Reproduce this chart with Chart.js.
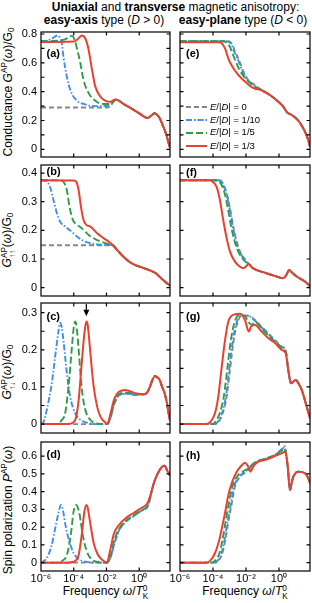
<!DOCTYPE html>
<html><head><meta charset="utf-8">
<script src="https://cdn.jsdelivr.net/npm/chart.js@4.4.1/dist/chart.umd.min.js"></script>
<style>
html,body{margin:0;padding:0;background:#fff;}
body{width:312px;height:603px;position:relative;overflow:hidden;font-family:'Liberation Sans',Arial,Helvetica,sans-serif;color:#000;}
canvas{position:absolute;}
.t{position:absolute;white-space:nowrap;transform:translate(-50%,-50%);font-size:12px;line-height:13px;}
.rot{position:absolute;white-space:nowrap;transform:translate(-50%,-50%) rotate(-90deg);font-size:12px;line-height:13px;}
.pl{position:absolute;font-weight:bold;font-size:11px;line-height:12px;transform:translateY(-50%);}
.ss{display:inline-block;vertical-align:-0.45em;line-height:0.95;font-size:0.68em;text-align:left;}
sup{font-size:0.68em;vertical-align:0.5em;line-height:0;}
sub{font-size:0.68em;vertical-align:-0.25em;line-height:0;}
.lg{position:absolute;left:186px;font-size:9.5px;line-height:11px;white-space:nowrap;}
.lg svg{vertical-align:middle;margin-right:3px;}
</style></head>
<body>
<div class="t" style="left:175.5px;top:6.5px;"><b>Uniaxial</b> and <b>transverse</b> magnetic anisotropy:</div>
<div class="t" style="left:104px;top:19.5px;"><b>easy-axis</b> type (<i>D</i> &gt; 0)</div>
<div class="t" style="left:243px;top:19.5px;"><b>easy-plane</b> type (<i>D</i> &lt; 0)</div>

<div class="rot" style="left:8px;top:92px;">Conductance <i>G</i><sup>AP</sup>(<i>ω</i>)/G<sub>0</sub></div>
<div class="rot" style="left:9px;top:240px;"><i>G</i><span class="ss">AP<br>↑↑</span>(<i>ω</i>)/G<sub>0</sub></div>
<div class="rot" style="left:9px;top:372px;"><i>G</i><span class="ss">AP<br>↑↓</span>(<i>ω</i>)/G<sub>0</sub></div>
<div class="rot" style="left:8px;top:510px;">Spin polarization <i>P</i><sup>AP</sup>(<i>ω</i>)</div>
<div class="t" style="left:105.5px;top:593px;">Frequency <i>ω</i>/<i>T</i><span class="ss">0<br>K</span></div>
<div class="t" style="left:245px;top:593px;">Frequency <i>ω</i>/<i>T</i><span class="ss">0<br>K</span></div>

<script>
// ---- x axis (log10 of ω/T_K^0) ----
const xTicks = [1e-6, 1e-4, 1e-2, 1];
const xTickLabels = ['10⁻⁶', '10⁻⁴', '10⁻²', '10⁰'];
const xMinLog = -6, xMaxLog = 1.88;

// series order: E/|D| = 1/3 (red), 1/5 (green), 1/10 (blue), 0 (gray)
const seriesLabels = ['E/|D| = 1/3', 'E/|D| = 1/5', 'E/|D| = 1/10', 'E/|D| = 0'];

// ---- y ticks ----
const aYTicks = [0,0.1,0.2,0.3,0.4,0.5,0.6,0.7,0.8];
const aYLabels = [0,0.2,0.4,0.6,0.8];
const bYTicks = [0,0.1,0.2,0.3,0.4];
const bYLabels = [0,0.1,0.2,0.3,0.4];
const cYTicks = [0,0.05,0.1,0.15,0.2,0.25,0.3];
const cYLabels = [0,0.1,0.2,0.3];
const dYTicks = [0,0.1,0.2,0.3,0.4,0.5,0.6];
const dYLabels = [0,0.1,0.2,0.3,0.4,0.5,0.6];

// ---- data: [log10(ω/T_K^0), value] ----
// (a) conductance, easy-axis
const aTail = [[-1.45,0.345],[-1.2,0.335],[-1.0,0.318],[-0.5,0.285],[0,0.25],[0.5,0.218],[0.75,0.236],[0.95,0.25],[1.1,0.238],[1.22,0.222],[1.43,0.169],[1.63,0.11],[1.83,0.03],[1.88,0.012]];
const aRed = [[-6,0.745],[-4.0,0.748],[-3.75,0.765],[-3.5,0.79],[-3.35,0.78],[-3.2,0.74],[-3.09,0.69],[-2.88,0.55],[-2.68,0.435],[-2.37,0.365],[-2.06,0.337],[-1.75,0.33],[-1.6,0.34]];
const aGreen = [[-6,0.75],[-4.9,0.755],[-4.5,0.765],[-4.25,0.785],[-4.11,0.787],[-3.95,0.76],[-3.76,0.68],[-3.6,0.60],[-3.4,0.48],[-3.09,0.39],[-2.68,0.337],[-2.27,0.315],[-1.75,0.315],[-1.6,0.33]];
const aBlue = [[-6,0.75],[-5.6,0.755],[-5.3,0.77],[-5.0,0.79],[-4.85,0.775],[-4.73,0.736],[-4.63,0.643],[-4.42,0.504],[-4.17,0.40],[-3.8,0.337],[-3.4,0.315],[-2.78,0.30],[-2.17,0.30],[-1.75,0.31],[-1.6,0.328]];
const aGray = [[-6,0.29],[-2.0,0.29],[-1.75,0.30],[-1.6,0.325]];

// (e) conductance, easy-plane
const eTail = [[-1.05,0.41],[-0.55,0.377],[-0.04,0.33],[0.26,0.296],[0.45,0.262],[0.56,0.25],[0.75,0.24],[0.87,0.231],[1.17,0.199],[1.47,0.146],[1.74,0.076],[1.88,0.018]];
const eRed = [[-6,0.743],[-3.6,0.743],[-3.47,0.735],[-3.27,0.70],[-3.07,0.63],[-2.83,0.574],[-2.47,0.516],[-2.06,0.47],[-1.76,0.44],[-1.45,0.42],[-1.2,0.415]];
const eGreen = [[-6,0.75],[-3.4,0.75],[-3.15,0.74],[-2.97,0.71],[-2.8,0.66],[-2.55,0.59],[-2.36,0.545],[-2.1,0.50],[-1.8,0.465],[-1.45,0.435]];
const eBlue = [[-6,0.75],[-3.25,0.75],[-3.02,0.745],[-2.85,0.72],[-2.72,0.68],[-2.55,0.64],[-2.41,0.60],[-2.21,0.54],[-1.9,0.48],[-1.5,0.443]];
const eGray = [[-6,0.75],[-3.2,0.75],[-2.97,0.745],[-2.8,0.72],[-2.67,0.68],[-2.5,0.64],[-2.36,0.60],[-2.16,0.54],[-1.86,0.48],[-1.45,0.446]];

// (b) G_up-up, easy-axis
const bTail = [[-1.65,0.15],[-1.34,0.131],[-0.93,0.106],[-0.52,0.087],[-0.11,0.076],[0.3,0.068],[0.71,0.059],[1.02,0.05],[1.28,0.036],[1.5,0.025],[1.7,0.015],[1.88,0.008]];
const bRed = [[-6,0.375],[-4.0,0.374],[-3.85,0.37],[-3.7,0.34],[-3.56,0.283],[-3.4,0.236],[-3.23,0.219],[-2.98,0.213],[-2.57,0.19],[-2.16,0.172],[-1.86,0.16]];
const bGreen = [[-6,0.375],[-4.75,0.374],[-4.63,0.37],[-4.42,0.34],[-4.26,0.283],[-4.05,0.236],[-3.85,0.222],[-3.5,0.207],[-3.09,0.184],[-2.57,0.166],[-2.16,0.157],[-1.85,0.152]];
const bBlue = [[-6,0.375],[-5.8,0.374],[-5.65,0.37],[-5.45,0.352],[-5.24,0.306],[-5.03,0.26],[-4.83,0.23],[-4.52,0.213],[-4.22,0.20],[-3.91,0.184],[-3.5,0.166],[-2.98,0.155],[-2.37,0.15],[-1.9,0.149]];
const bGray = [[-6,0.148],[-1.9,0.148]];

// (f) G_up-up, easy-plane
const fTail = [[-1.65,0.071],[-1.45,0.064],[-0.85,0.052],[-0.24,0.041],[0.26,0.033],[0.45,0.045],[0.62,0.062],[0.8,0.052],[1.05,0.04],[1.3,0.031],[1.58,0.021],[1.88,0.006]];
const fRed = [[-6,0.375],[-4.2,0.375],[-4.08,0.372],[-3.78,0.352],[-3.58,0.306],[-3.38,0.236],[-3.17,0.172],[-2.97,0.126],[-2.67,0.091],[-2.36,0.073],[-2.16,0.068],[-1.98,0.075],[-1.86,0.083],[-1.76,0.079]];
const fGreen = [[-6,0.375],[-3.75,0.375],[-3.6,0.37],[-3.3,0.33],[-3.1,0.277],[-2.9,0.213],[-2.68,0.16],[-2.47,0.126],[-2.17,0.099],[-1.92,0.085],[-1.76,0.079]];
const fBlue = [[-6,0.375],[-3.65,0.375],[-3.5,0.37],[-3.2,0.33],[-3.0,0.277],[-2.8,0.213],[-2.6,0.16],[-2.4,0.126],[-2.1,0.099],[-1.88,0.085],[-1.76,0.079]];
const fGray = [[-6,0.375],[-3.6,0.375],[-3.47,0.37],[-3.17,0.33],[-2.97,0.277],[-2.77,0.213],[-2.56,0.16],[-2.36,0.126],[-2.06,0.099],[-1.86,0.085],[-1.76,0.079]];

// (c) G_up-down, easy-axis
const cTail = [[0.3,0.08],[0.5,0.086],[0.65,0.10],[0.8,0.118],[0.95,0.129],[1.1,0.126],[1.25,0.119],[1.4,0.1],[1.55,0.083],[1.7,0.055],[1.79,0.03],[1.88,0.01]];
const cRed = [[-6,0],[-4.4,0],[-4.01,0.005],[-3.85,0.02],[-3.7,0.065],[-3.5,0.17],[-3.35,0.244],[-3.23,0.276],[-3.15,0.268],[-3.09,0.244],[-2.94,0.17],[-2.78,0.10],[-2.57,0.047],[-2.37,0.02],[-2.06,0.004],[-1.95,0],[-1.75,0.029],[-1.54,0.065],[-1.24,0.087],[-0.83,0.092],[-0.32,0.084]];
const cGreen = [[-6,0],[-5.0,0],[-4.75,0.01],[-4.52,0.03],[-4.32,0.10],[-4.11,0.208],[-4.0,0.26],[-3.91,0.276],[-3.82,0.26],[-3.7,0.2],[-3.5,0.092],[-3.29,0.038],[-2.98,0.011],[-2.6,0.002],[-1.95,0],[-1.75,0.02],[-1.54,0.056],[-1.24,0.08],[-0.83,0.085],[-0.32,0.081]];
const cBlue = [[-6,0],[-5.85,0.005],[-5.65,0.038],[-5.34,0.11],[-5.14,0.18],[-4.93,0.25],[-4.83,0.273],[-4.73,0.26],[-4.63,0.226],[-4.42,0.137],[-4.22,0.074],[-3.91,0.029],[-3.5,0.009],[-3.0,0.002],[-2.5,0],[-1.95,0],[-1.75,0.018],[-1.54,0.053],[-1.24,0.077],[-0.83,0.082],[-0.32,0.079]];
const cGray = [[-6,0],[-1.95,0],[-1.75,0.018],[-1.54,0.053],[-1.24,0.077],[-0.83,0.082],[-0.32,0.079]];
const cArrowLog = -3.23, cArrowTip = 0.29;

// (g) G_up-down, easy-plane
const gTail = [[0.56,0.146],[0.73,0.11],[1.01,0.119],[1.2,0.108],[1.38,0.092],[1.68,0.047],[1.88,0.015]];
const gRed = [[-6,0],[-4.48,0],[-4.18,0.005],[-3.88,0.029],[-3.68,0.074],[-3.47,0.154],[-3.27,0.226],[-3.07,0.276],[-2.77,0.294],[-2.36,0.297],[-2.06,0.28],[-1.9,0.255],[-1.82,0.249],[-1.7,0.262],[-1.45,0.267],[-1.05,0.249],[-0.64,0.231],[-0.24,0.218],[0.16,0.2],[0.41,0.19]];
const gGreen = [[-6,0],[-4.1,0],[-3.85,0.006],[-3.55,0.035],[-3.33,0.078],[-3.13,0.15],[-2.93,0.222],[-2.72,0.27],[-2.45,0.293],[-2.1,0.292],[-1.85,0.275],[-1.65,0.267],[-1.45,0.275],[-1.05,0.257],[-0.64,0.238],[-0.24,0.222],[0.16,0.205],[0.41,0.195]];
const gBlue = [[-6,0],[-3.95,0],[-3.73,0.005],[-3.43,0.033],[-3.22,0.074],[-3.02,0.146],[-2.82,0.218],[-2.61,0.267],[-2.3,0.292],[-1.9,0.292],[-1.45,0.278],[-1.05,0.26],[-0.64,0.242],[-0.24,0.224],[0.16,0.207],[0.41,0.196]];
const gGray = [[-6,0],[-3.9,0],[-3.68,0.005],[-3.38,0.033],[-3.17,0.074],[-2.97,0.146],[-2.77,0.218],[-2.56,0.267],[-2.26,0.292],[-1.86,0.292],[-1.45,0.28],[-1.05,0.262],[-0.64,0.244],[-0.24,0.226],[0.16,0.209],[0.41,0.198]];

// (d) spin polarization, easy-axis
const dTail = [[0.78,0.41],[0.94,0.46],[1.1,0.495],[1.24,0.52],[1.4,0.54],[1.55,0.545],[1.7,0.52],[1.88,0.49]];
const dRed = [[-6,0],[-4.4,0],[-4.0,0.005],[-3.85,0.015],[-3.7,0.043],[-3.5,0.165],[-3.35,0.287],[-3.23,0.325],[-3.15,0.31],[-3.09,0.28],[-2.94,0.193],[-2.78,0.109],[-2.57,0.053],[-2.37,0.025],[-2.15,0.008],[-1.99,0],[-1.75,0.08],[-1.54,0.165],[-1.24,0.212],[-0.83,0.25],[-0.32,0.281],[0.09,0.306],[0.5,0.334],[0.65,0.37]];
const dGreen = [[-6,0],[-5.0,0],[-4.7,0.01],[-4.42,0.043],[-4.17,0.165],[-4.01,0.287],[-3.85,0.325],[-3.75,0.31],[-3.64,0.27],[-3.43,0.146],[-3.23,0.071],[-2.98,0.025],[-2.6,0.005],[-1.99,0],[-1.75,0.04],[-1.54,0.12],[-1.24,0.19],[-0.83,0.235],[-0.32,0.268],[0.09,0.293],[0.5,0.32],[0.65,0.36]];
const dBlue = [[-6,0],[-5.9,0.005],[-5.65,0.025],[-5.34,0.1],[-5.14,0.19],[-4.93,0.28],[-4.79,0.325],[-4.7,0.31],[-4.63,0.28],[-4.46,0.19],[-4.26,0.118],[-4.01,0.053],[-3.6,0.015],[-3.2,0.004],[-2.6,0],[-1.99,0],[-1.75,0.03],[-1.54,0.1],[-1.24,0.18],[-0.83,0.23],[-0.32,0.263],[0.09,0.29],[0.5,0.315],[0.65,0.355]];
const dGray = [[-6,0],[-1.99,0],[-1.75,0.03],[-1.54,0.1],[-1.24,0.18],[-0.83,0.23],[-0.32,0.263],[0.09,0.29],[0.5,0.315],[0.65,0.355]];

// (h) spin polarization, easy-plane
const hTail = [[0.45,0.6],[0.53,0.54],[0.67,0.409],[0.77,0.45],[0.87,0.484],[1.17,0.512],[1.58,0.503],[1.75,0.48],[1.88,0.447]];
const hRed = [[-6,0],[-4.48,0],[-4.18,0.01],[-3.88,0.053],[-3.64,0.12],[-3.47,0.19],[-3.27,0.28],[-3.07,0.38],[-2.83,0.456],[-2.56,0.512],[-2.3,0.544],[-2.06,0.562],[-1.86,0.54],[-1.72,0.512],[-1.56,0.54],[-1.25,0.568],[-0.85,0.578],[-0.35,0.596],[0.16,0.615],[0.36,0.624]];
const hGreen = [[-6,0],[-4.1,0],[-3.95,0.005],[-3.62,0.05],[-3.42,0.13],[-3.22,0.24],[-3.02,0.345],[-2.82,0.43],[-2.5,0.49],[-2.2,0.512],[-1.86,0.532],[-1.45,0.565],[-1.0,0.58],[-0.35,0.6],[0.16,0.63],[0.32,0.643],[0.4,0.625]];
const hBlue = [[-6,0],[-3.95,0],[-3.82,0.004],[-3.52,0.043],[-3.32,0.12],[-3.12,0.23],[-2.91,0.334],[-2.72,0.428],[-2.41,0.484],[-2.1,0.508],[-1.8,0.532],[-1.45,0.562],[-1.0,0.58],[-0.35,0.602],[0.16,0.638],[0.32,0.655],[0.4,0.635]];
const hGray = [[-6,0],[-3.9,0],[-3.78,0.004],[-3.47,0.043],[-3.27,0.12],[-3.07,0.23],[-2.86,0.334],[-2.67,0.428],[-2.36,0.484],[-2.06,0.506],[-1.76,0.53],[-1.45,0.562],[-1.0,0.58],[-0.35,0.6],[0.16,0.634],[0.32,0.649],[0.4,0.63]];

// ---- styles ----
const lineColors = ['#e8412f', '#2f9d45', '#3f8def', '#878787'];
const lineDashes = [[], [7,3], [6,2,1.5,2], [5,3]];
const lineWidths = [2, 1.9, 1.9, 1.9];

Chart.defaults.font.family = "'Liberation Sans', Arial, Helvetica, sans-serif";
Chart.defaults.font.size = 11;
Chart.defaults.color = '#000';

const cols = [{l:41, r:170, yw:41}, {l:180, r:310, yw:20}];
const rows = [{t:32, b:157}, {t:165, b:296}, {t:303, b:433}, {t:442, b:571}];
const PT = 14, PR = 4, XH = 18;

const framePlugin = {
  id: 'frame',
  afterDraw(chart, args, opts) {
    const {ctx, chartArea: a} = chart;
    const xs = chart.scales.x, ys = chart.scales.y;
    ctx.save();
    ctx.strokeStyle = '#000';
    ctx.lineWidth = 1.2;
    ctx.strokeRect(a.left, a.top, a.right - a.left, a.bottom - a.top);
    ctx.beginPath();
    const L = 3.5;
    xs.ticks.forEach(t => {
      const p = xs.getPixelForValue(t.value);
      if (p <= a.left + 1 || p >= a.right - 1) return;
      ctx.moveTo(p, a.bottom); ctx.lineTo(p, a.bottom - L);
      ctx.moveTo(p, a.top); ctx.lineTo(p, a.top + L);
    });
    ys.ticks.forEach(t => {
      const p = ys.getPixelForValue(t.value);
      if (p <= a.top + 1 || p >= a.bottom - 1) return;
      ctx.moveTo(a.left, p); ctx.lineTo(a.left + L, p);
      ctx.moveTo(a.right, p); ctx.lineTo(a.right - L, p);
    });
    ctx.stroke();
    if (opts && opts.arrowLog !== undefined) {
      const px = xs.getPixelForValue(Math.pow(10, opts.arrowLog));
      const tip = ys.getPixelForValue(opts.arrowTip);
      ctx.fillStyle = '#000';
      ctx.lineWidth = 1.2;
      ctx.beginPath();
      ctx.moveTo(px, a.top + 1); ctx.lineTo(px, tip - 5);
      ctx.stroke();
      ctx.beginPath();
      ctx.moveTo(px - 3, tip - 6.5); ctx.lineTo(px + 3, tip - 6.5); ctx.lineTo(px, tip);
      ctx.closePath(); ctx.fill();
    }
    ctx.restore();
  }
};

function toPts(arr) { return arr.map(p => ({x: Math.pow(10, p[0]), y: p[1]})); }
function fmtY(v) { return v === 0 ? '0' : v.toFixed(1); }

function makePanel(col, row, series, yMin, yMax, yTicks, yLabels, showX, showY, frameOpts) {
  const c = cols[col], r = rows[row];
  const w = c.yw + (c.r - c.l) + PR, h = PT + (r.b - r.t) + XH;
  const cv = document.createElement('canvas');
  cv.width = w; cv.height = h;
  cv.style.left = (c.l - c.yw) + 'px'; cv.style.top = (r.t - PT) + 'px';
  cv.style.width = w + 'px'; cv.style.height = h + 'px';
  document.body.appendChild(cv);
  new Chart(cv, {
    type: 'line',
    data: {
      datasets: series.map((s, i) => ({
        label: seriesLabels[i],
        data: toPts(s),
        borderColor: lineColors[i],
        borderDash: lineDashes[i],
        borderWidth: lineWidths[i],
        pointRadius: 0,
        fill: false,
        cubicInterpolationMode: 'monotone'
      }))
    },
    options: {
      responsive: false, animation: false, devicePixelRatio: 1, events: [],
      layout: {padding: {top: PT, right: PR, left: 0, bottom: 0}},
      plugins: {legend: {display: false}, tooltip: {enabled: false}, frame: frameOpts || {}},
      scales: {
        x: {
          type: 'logarithmic', min: Math.pow(10, xMinLog), max: Math.pow(10, xMaxLog),
          grid: {display: false, drawTicks: false}, border: {display: false},
          afterBuildTicks: s => { s.ticks = xTicks.map(v => ({value: v})); },
          afterFit: s => { s.height = XH; },
          ticks: {display: showX, padding: 1, autoSkip: false, maxRotation: 0, color: '#000',
                  font: {size: 11},
                  callback: v => { const i = xTicks.indexOf(v); return i >= 0 ? xTickLabels[i] : ''; }}
        },
        y: {
          type: 'linear', min: yMin, max: yMax,
          grid: {display: false, drawTicks: false}, border: {display: false},
          afterBuildTicks: s => { s.ticks = yTicks.map(v => ({value: v})); },
          afterFit: s => { s.width = c.yw; },
          ticks: {display: showY, padding: 4, autoSkip: false, color: '#000', font: {size: 11},
                  callback: v => yLabels.includes(v) ? fmtY(v) : ''}
        }
      }
    },
    plugins: [framePlugin]
  });
}

makePanel(0, 0, [aRed.concat(aTail), aGreen.concat(aTail), aBlue.concat(aTail), aGray.concat(aTail)], -0.053, 0.814, aYTicks, aYLabels, false, true);
makePanel(1, 0, [eRed.concat(eTail), eGreen.concat(eTail), eBlue.concat(eTail), eGray.concat(eTail)], -0.053, 0.814, aYTicks, aYLabels, false, false);
makePanel(0, 1, [bRed.concat(bTail), bGreen.concat(bTail), bBlue.concat(bTail), bGray.concat(bTail)], -0.029, 0.428, bYTicks, bYLabels, false, true);
makePanel(1, 1, [fRed.concat(fTail), fGreen.concat(fTail), fBlue.concat(fTail), fGray.concat(fTail)], -0.029, 0.428, bYTicks, bYLabels, false, false);
makePanel(0, 2, [cRed.concat(cTail), cGreen.concat(cTail), cBlue.concat(cTail), cGray.concat(cTail)], -0.024, 0.326, cYTicks, cYLabels, false, true, {arrowLog: cArrowLog, arrowTip: cArrowTip});
makePanel(1, 2, [gRed.concat(gTail), gGreen.concat(gTail), gBlue.concat(gTail), gGray.concat(gTail)], -0.024, 0.326, cYTicks, cYLabels, false, false);
makePanel(0, 3, [dRed.concat(dTail), dGreen.concat(dTail), dBlue.concat(dTail), dGray.concat(dTail)], -0.047, 0.679, dYTicks, dYLabels, true, true);
makePanel(1, 3, [hRed.concat(hTail), hGreen.concat(hTail), hBlue.concat(hTail), hGray.concat(hTail)], -0.047, 0.679, dYTicks, dYLabels, true, false);
</script>

<div class="pl" style="left:46.5px;top:52.5px;">(a)</div>
<div class="pl" style="left:186px;top:52.5px;">(e)</div>
<div class="pl" style="left:46.5px;top:171px;">(b)</div>
<div class="pl" style="left:186px;top:172px;">(f)</div>
<div class="pl" style="left:46.5px;top:316px;">(c)</div>
<div class="pl" style="left:186px;top:316px;">(g)</div>
<div class="pl" style="left:46.5px;top:454px;">(d)</div>
<div class="pl" style="left:186px;top:455px;">(h)</div>

<div class="lg" style="top:100.5px;"><svg width="21" height="4"><line x1="0" y1="2" x2="21" y2="2" stroke="#878787" stroke-width="1.9" stroke-dasharray="5 3"/></svg><i>E</i>/|<i>D</i>| = 0</div>
<div class="lg" style="top:113.8px;"><svg width="21" height="4"><line x1="0" y1="2" x2="21" y2="2" stroke="#3f8def" stroke-width="1.9" stroke-dasharray="6 2 1.5 2"/></svg><i>E</i>/|<i>D</i>| = 1/10</div>
<div class="lg" style="top:126.2px;"><svg width="21" height="4"><line x1="0" y1="2" x2="21" y2="2" stroke="#2f9d45" stroke-width="1.9" stroke-dasharray="7 3"/></svg><i>E</i>/|<i>D</i>| = 1/5</div>
<div class="lg" style="top:139.5px;"><svg width="21" height="4"><line x1="0" y1="2" x2="21" y2="2" stroke="#e8412f" stroke-width="2"/></svg><i>E</i>/|<i>D</i>| = 1/3</div>
</body></html>
